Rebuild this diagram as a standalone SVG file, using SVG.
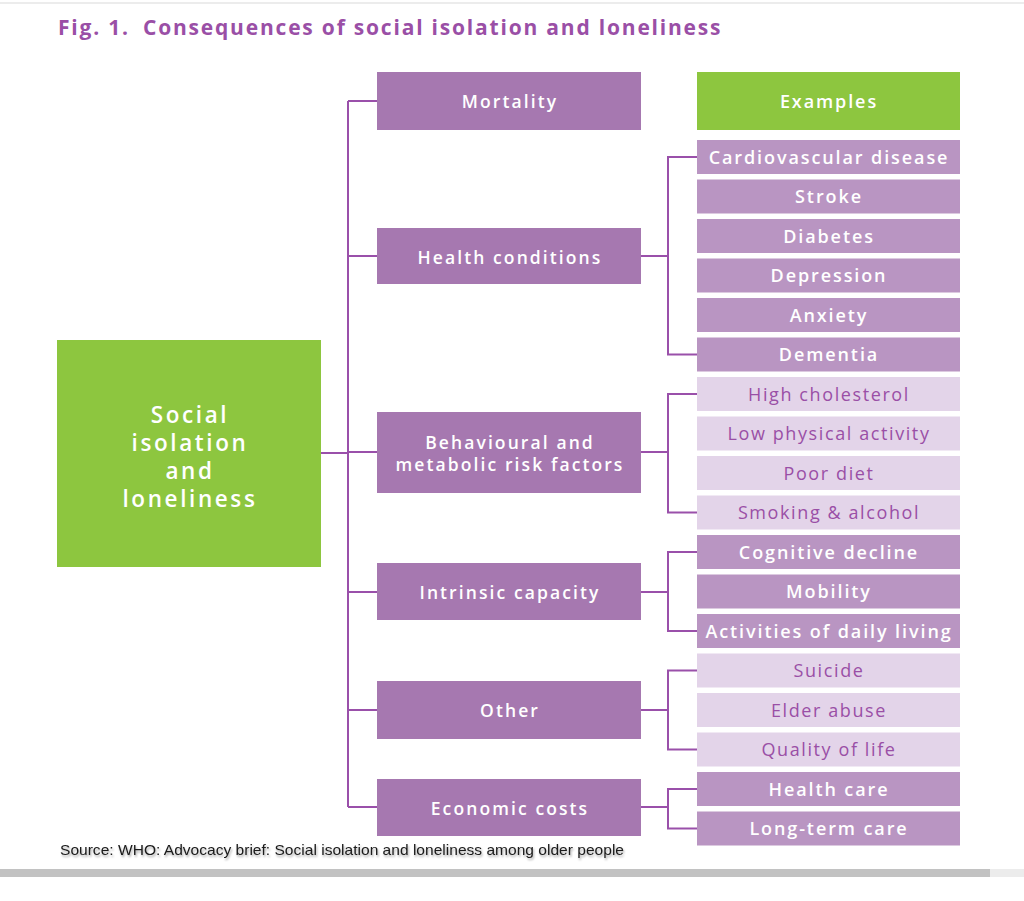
<svg xmlns="http://www.w3.org/2000/svg" width="1024" height="901" viewBox="0 0 1024 901">
<defs>
<style>
.title{font-family:"Open Sans","Liberation Sans",sans-serif;font-weight:700;font-size:21px;fill:#9a4fa6;letter-spacing:1.8px}
.mid{fill:#a678b0}
.dk{fill:#b995c2}
.lt{fill:#e3d4e9}
.gr{fill:#8dc63f}
.wt{font-family:"Open Sans","Liberation Sans",sans-serif;font-weight:600;font-size:17.5px;fill:#ffffff;text-anchor:middle;letter-spacing:2.1px}
.ex{font-size:18px;letter-spacing:1.9px}
.pt{font-family:"Open Sans","Liberation Sans",sans-serif;font-weight:400;font-size:18px;fill:#9a4fa6;text-anchor:middle;letter-spacing:1.6px}
.big{font-family:"Open Sans","Liberation Sans",sans-serif;font-weight:600;font-size:22.5px;fill:#ffffff;text-anchor:middle;letter-spacing:2.6px}
.conn{fill:none;stroke:#9a50aa;stroke-width:2}
.src{font-family:"Liberation Sans",Arial,sans-serif;font-size:15px;fill:#1a1a1a}
</style>
<filter id="sh" x="-5%" y="-30%" width="110%" height="160%">
<feDropShadow dx="1" dy="2" stdDeviation="1" flood-color="#000" flood-opacity="0.35"/>
</filter>
</defs>
<rect x="0" y="0" width="1024" height="901" fill="#ffffff"/>
<rect x="0" y="2" width="1024" height="2" fill="#ececec"/>
<text class="title" x="58" y="35">Fig. 1.<tspan x="143">Consequences of social isolation and loneliness</tspan></text>

<g id="connectors">
<path class="conn" d="M321 453 H348 M348 101 V807 M348 101 H377 M348 256 H377 M348 452 H377 M348 592 H377 M348 710 H377 M348 807 H377"/>
<path class="conn" d="M640 256 H668 M697 157 H668 V354.5 H697"/>
<path class="conn" d="M640 452 H668 M697 394 H668 V512.5 H697"/>
<path class="conn" d="M640 592 H668 M697 552 H668 V631 H697"/>
<path class="conn" d="M640 710 H668 M697 670.5 H668 V749.5 H697"/>
<path class="conn" d="M640 807 H668 M697 789 H668 V828.5 H697"/>
</g>

<g id="root">
<rect class="gr" x="57" y="340" width="264" height="227"/>
<text class="big" x="190" y="423">Social</text>
<text class="big" x="190" y="451">isolation</text>
<text class="big" x="190" y="479">and</text>
<text class="big" x="190" y="507">loneliness</text>
</g>

<g id="mortality"><rect class="mid" x="377" y="72" width="264" height="58"/><text class="wt" x="510" y="108">Mortality</text></g>
<g id="health-conditions"><rect class="mid" x="377" y="228" width="264" height="56"/><text class="wt" x="510" y="264">Health conditions</text></g>
<g id="behavioural"><rect class="mid" x="377" y="412" width="264" height="81"/><text class="wt" x="510" y="449">Behavioural and</text><text class="wt" x="510" y="471">metabolic risk factors</text></g>
<g id="intrinsic"><rect class="mid" x="377" y="563" width="264" height="57"/><text class="wt" x="510" y="599">Intrinsic capacity</text></g>
<g id="other"><rect class="mid" x="377" y="681" width="264" height="58"/><text class="wt" x="510" y="717">Other</text></g>
<g id="economic"><rect class="mid" x="377" y="779" width="264" height="57"/><text class="wt" x="510" y="815">Economic costs</text></g>

<g id="examples"><rect class="gr" x="697" y="72" width="263" height="58"/><text class="wt ex" x="829" y="108">Examples</text></g>

<g id="ex-cardio"><rect class="dk" x="697" y="140" width="263" height="34"/><text class="wt ex" x="829" y="163.5">Cardiovascular disease</text></g>
<g id="ex-stroke"><rect class="dk" x="697" y="179.5" width="263" height="34"/><text class="wt ex" x="829" y="203">Stroke</text></g>
<g id="ex-diabetes"><rect class="dk" x="697" y="219" width="263" height="34"/><text class="wt ex" x="829" y="242.5">Diabetes</text></g>
<g id="ex-depression"><rect class="dk" x="697" y="258.5" width="263" height="34"/><text class="wt ex" x="829" y="282">Depression</text></g>
<g id="ex-anxiety"><rect class="dk" x="697" y="298" width="263" height="34"/><text class="wt ex" x="829" y="321.5">Anxiety</text></g>
<g id="ex-dementia"><rect class="dk" x="697" y="337.5" width="263" height="34"/><text class="wt ex" x="829" y="361">Dementia</text></g>

<g id="ex-cholesterol"><rect class="lt" x="697" y="377" width="263" height="34"/><text class="pt" x="829" y="400.5">High cholesterol</text></g>
<g id="ex-activity"><rect class="lt" x="697" y="416.5" width="263" height="34"/><text class="pt" x="829" y="440">Low physical activity</text></g>
<g id="ex-diet"><rect class="lt" x="697" y="456" width="263" height="34"/><text class="pt" x="829" y="479.5">Poor diet</text></g>
<g id="ex-smoking"><rect class="lt" x="697" y="495.5" width="263" height="34"/><text class="pt" x="829" y="519">Smoking &amp; alcohol</text></g>

<g id="ex-cognitive"><rect class="dk" x="697" y="535" width="263" height="34"/><text class="wt ex" x="829" y="558.5">Cognitive decline</text></g>
<g id="ex-mobility"><rect class="dk" x="697" y="574.5" width="263" height="34"/><text class="wt ex" x="829" y="598">Mobility</text></g>
<g id="ex-adl"><rect class="dk" x="697" y="614" width="263" height="34"/><text class="wt ex" x="829" y="637.5">Activities of daily living</text></g>

<g id="ex-suicide"><rect class="lt" x="697" y="653.5" width="263" height="34"/><text class="pt" x="829" y="677">Suicide</text></g>
<g id="ex-elder"><rect class="lt" x="697" y="693" width="263" height="34"/><text class="pt" x="829" y="716.5">Elder abuse</text></g>
<g id="ex-quality"><rect class="lt" x="697" y="732.5" width="263" height="34"/><text class="pt" x="829" y="756">Quality of life</text></g>

<g id="ex-healthcare"><rect class="dk" x="697" y="772" width="263" height="34"/><text class="wt ex" x="829" y="795.5">Health care</text></g>
<g id="ex-longterm"><rect class="dk" x="697" y="811.5" width="263" height="34"/><text class="wt ex" x="829" y="835">Long-term care</text></g>

<text class="src" x="60" y="855" textLength="564" lengthAdjust="spacingAndGlyphs" filter="url(#sh)">Source: WHO: Advocacy brief: Social isolation and loneliness among older people</text>
<rect x="0" y="869" width="990" height="8" fill="#c2c2c2"/>
<rect x="990" y="869" width="34" height="8" fill="#ececec"/>
</svg>
